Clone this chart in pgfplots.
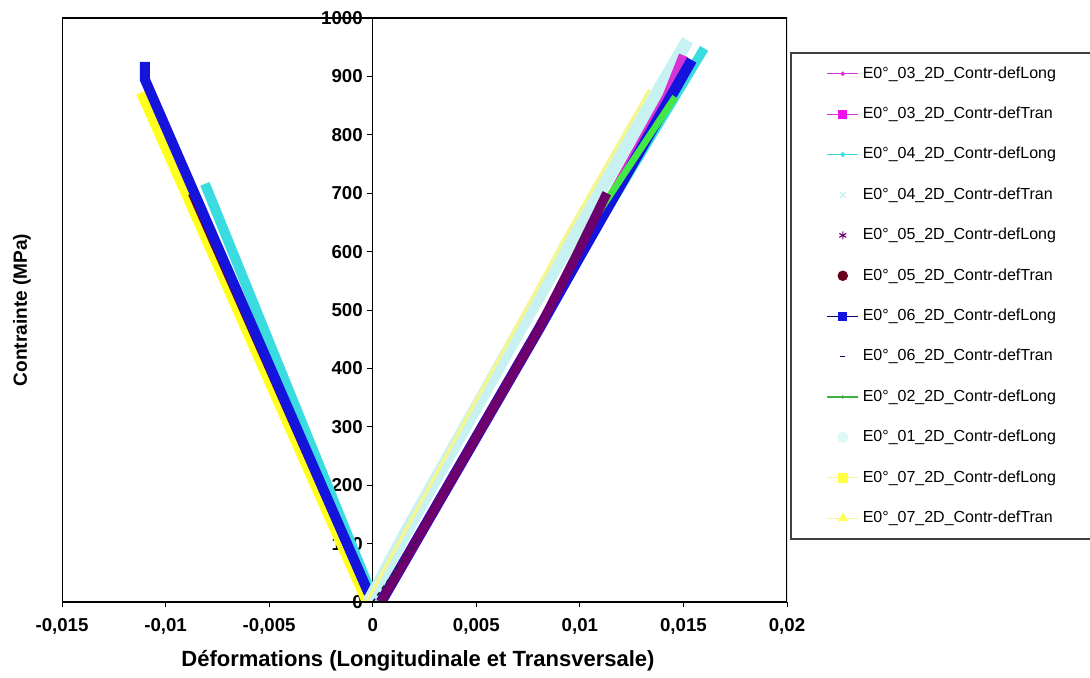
\documentclass[border=0pt]{standalone}
\usepackage{fontspec}
\setmainfont{Liberation Sans}
\usepackage{pgfplots}
\pgfplotsset{compat=1.18}
\definecolor{cMag}{HTML}{D633D6}
\definecolor{cMagB}{HTML}{F010F0}
\definecolor{cCyan}{HTML}{3ADCE0}
\definecolor{cCyanL}{HTML}{BEEFEF}
\definecolor{cLCyan}{HTML}{C8F2F2}
\definecolor{cPurp}{HTML}{6E006E}
\definecolor{cMaroon}{HTML}{6A0020}
\definecolor{cNavy}{HTML}{000080}
\definecolor{cBlue}{HTML}{1414DC}
\definecolor{cGreen}{HTML}{44E844}
\definecolor{cGreenL}{HTML}{40B040}
\definecolor{cYel}{HTML}{FFFF20}
\definecolor{cYelL}{HTML}{F6F690}
\definecolor{cDash}{HTML}{202050}
\begin{document}
\begin{tikzpicture}
\begin{axis}[
  scale only axis, width=543.75pt, height=438pt,
  xmin=-0.015, xmax=0.02, ymin=0, ymax=1000,
  axis x line*=bottom, axis y line*=middle,
  hide obscured x ticks=false, hide obscured y ticks=false,
  scaled x ticks=false, scaled y ticks=false,
  xtick={-0.015,-0.01,-0.005,0,0.005,0.01,0.015,0.02},
  xticklabels={{-0,015},{-0,01},{-0,005},{0},{0,005},{0,01},{0,015},{0,02}},
  ytick={0,100,200,300,400,500,600,700,800,900,1000},
  yticklabels={0,100,200,300,400,500,600,700,800,900,1000},
  tick align=outside, major tick length=4pt,
  x axis line style={line width=1.5pt},
  y axis line style={line width=0.7pt},
  tick style={black, line width=0.7pt},
  ticklabel style={font=\bfseries\fontsize{14}{16}\selectfont},
  xticklabel style={yshift=-5pt},
  xlabel={Déformations (Longitudinale et Transversale)},
  ylabel={Contrainte (MPa)},
  xlabel style={font=\bfseries\fontsize{16.5}{18}\selectfont, at={(axis description cs:0.491,-0.101)}, anchor=center},
  ylabel style={font=\bfseries\fontsize{14.3}{16}\selectfont, at={(axis description cs:-0.0552,0.5)}, anchor=center},
  legend image code/.code={\draw[mark repeat=2,mark phase=2,#1] plot coordinates {(0pt,0pt) (11.6pt,0pt) (23.2pt,0pt)};},
  legend style={at={(rel axis cs:1.0041,0.9418)}, anchor=north west, draw=black!75, line width=1.2pt,
    font=\fontsize{12}{14}\selectfont, cells={anchor=west}, inner xsep=27pt, inner ysep=9pt,
    row sep=16.8pt, column sep=2pt, nodes={inner sep=1pt, text height=9pt, text depth=2.5pt}},
  legend cell align=left,
]
% ---- left (transverse) branch ----
\addplot[forget plot, color=cYel, line width=7pt] coordinates {(-0.0003,0) (-0.0112,872)};
\addplot[forget plot, color=cCyan, line width=7.5pt] coordinates {(0.0001,0) (-0.0081,716)};
\addplot[forget plot, color=cMaroon, line width=7pt] coordinates {(0,0) (-0.0087,700)};
\addplot[forget plot, color=cBlue, line width=7.5pt] coordinates {(-0.0002,15) (-0.011,895) (-0.011,925)};
% ---- right (longitudinal) branch ----
\addplot[forget plot, color=cLCyan, line width=9.5pt] coordinates {(-0.0002,0) (0.00166,123) (0.0071,466) (0.0152,962)};
\addplot[forget plot, color=cYelL, line width=2.5pt] coordinates {(-0.0003,0) (0.0094,632) (0.01336,877)};
\addplot[forget plot, color=cCyan, line width=7pt] coordinates {(0.0004,0) (0.0024,123) (0.0080,466) (0.0101,600) (0.0160,948)};
\addplot[forget plot, color=cMag, line width=7pt] coordinates {(0.0004,0) (0.0024,123) (0.0080,466) (0.0100,598) (0.0142,865) (0.0150,936)};
\addplot[forget plot, color=cBlue, line width=8pt] coordinates {(0.0004,0) (0.0024,123) (0.0080,466) (0.0101,598) (0.0154,928)};
\addplot[forget plot, color=cGreen, line width=5pt] coordinates {(0.0004,0) (0.0080,466) (0.0104,640) (0.0146,865)};
\addplot[forget plot, color=cPurp, line width=7pt] coordinates {(0.0004,0) (0.0024,123) (0.0080,466) (0.0099,598) (0.0113,700)};
\addplot[forget plot, color=cDash, line width=1.2pt, dashed] coordinates {(0,0) (0.0022,110)};
% ---- frame ----
\draw[line width=1.5pt] (rel axis cs:0,0) rectangle (rel axis cs:1,1);
\coordinate (SW) at (rel axis cs:0,0);
\coordinate (NE) at (rel axis cs:1,1);
% ---- legend ----
\addlegendimage{color=cMag, line width=0.8pt, mark=*, mark size=1.2pt}
\addlegendentry{E0°\_03\_2D\_Contr-defLong}
\addlegendimage{color=cMag, line width=0.8pt, mark=square*, mark size=3pt, mark options={fill=cMagB,draw=cMagB}}
\addlegendentry{E0°\_03\_2D\_Contr-defTran}
\addlegendimage{color=cCyan, line width=0.8pt, mark=*, mark size=1.4pt}
\addlegendentry{E0°\_04\_2D\_Contr-defLong}
\addlegendimage{only marks, color=cCyanL, mark=x, mark size=3pt, line width=0.8pt}
\addlegendentry{E0°\_04\_2D\_Contr-defTran}
\addlegendimage{only marks, color=cPurp, mark=asterisk, mark size=3pt, line width=0.8pt}
\addlegendentry{E0°\_05\_2D\_Contr-defLong}
\addlegendimage{only marks, color=cMaroon, mark=*, mark size=3.3pt}
\addlegendentry{E0°\_05\_2D\_Contr-defTran}
\addlegendimage{color=cNavy, line width=0.8pt, mark=square*, mark size=3pt, mark options={fill=cBlue,draw=cBlue}}
\addlegendentry{E0°\_06\_2D\_Contr-defLong}
\addlegendimage{only marks, color=cNavy, mark=-, mark size=2pt, line width=1.2pt}
\addlegendentry{E0°\_06\_2D\_Contr-defTran}
\addlegendimage{color=cGreenL, line width=0.8pt, mark=*, mark size=0.8pt}
\addlegendentry{E0°\_02\_2D\_Contr-defLong}
\addlegendimage{only marks, color=cLCyan!60, mark=*, mark size=3.5pt}
\addlegendentry{E0°\_01\_2D\_Contr-defLong}
\addlegendimage{color=cYelL, line width=0.8pt, mark=square*, mark size=3.5pt, mark options={fill=cYel!85!white,draw=cYel!85!white}}
\addlegendentry{E0°\_07\_2D\_Contr-defLong}
\addlegendimage{color=cYelL, line width=0.8pt, mark=triangle*, mark size=3.5pt, mark options={fill=cYel!75!white,draw=cYel!75!white}}
\addlegendentry{E0°\_07\_2D\_Contr-defTran}
\end{axis}
\pgfresetboundingbox
\path[use as bounding box] ([shift={(-46.5pt,-56.25pt)}]SW) rectangle ([shift={(227.25pt,13.5pt)}]NE);
\end{tikzpicture}
\end{document}
